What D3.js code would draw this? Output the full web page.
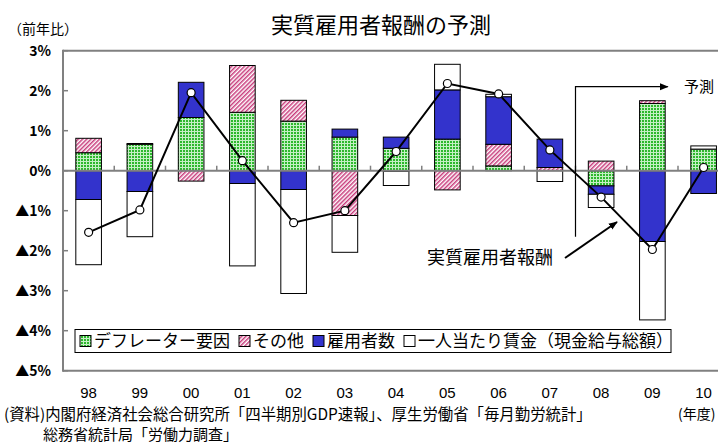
<!DOCTYPE html>
<html><head><meta charset="utf-8">
<script src="https://cdn.jsdelivr.net/npm/d3@7/dist/d3.min.js"></script>
<style>
body{margin:0;background:#fff;}
svg{display:block;}
text{font-family:"Liberation Sans","Noto Sans CJK JP",sans-serif;}
.jp{font-family:"Noto Sans CJK JP","Liberation Sans",sans-serif;}
</style></head>
<body><svg id="c" width="718" height="446"></svg>
<script>
const categories = ["98","99","00","01","02","03","04","05","06","07","08","09","10"];
const deflator   = [0.45, 0.66, 1.33, 1.46, 1.24, 0.84, 0.56, 0.79, 0.12, 0.00, -0.38, 1.68, 0.54];
const others     = [0.36, 0.02, -0.26, 1.17, 0.52, -1.12, -0.02, -0.48, 0.54, 0.08, 0.24, 0.07, 0.00];
const employees  = [-0.72, -0.52, 0.88, -0.32, -0.47, 0.20, 0.28, 1.23, 1.19, 0.71, -0.21, -1.77, -0.57];
const wages      = [-1.63, -1.13, 0.00, -2.06, -2.60, -0.92, -0.35, 0.64, 0.06, -0.27, -0.33, -1.96, 0.08];
const compensation = [-1.54, -0.98, 1.95, 0.25, -1.30, -1.00, 0.48, 2.18, 1.92, 0.52, -0.66, -1.97, 0.08];
const seriesNames = ["デフレーター要因","その他","雇用者数","一人当たり賃金（現金給与総額）"];
const yTicks = [3,2,1,0,-1,-2,-3,-4,-5];
const yTickLabels = ["3%","2%","1%","0%","▲1%","▲2%","▲3%","▲4%","▲5%"];
const title = "実質雇用者報酬の予測";
const unitLabel = "（前年比）";
const yearLabel = "(年度)";
const forecastLabel = "予測";
const lineLabel = "実質雇用者報酬";
const sourceLines = ["(資料)内閣府経済社会総合研究所「四半期別GDP速報」、厚生労働省「毎月勤労統計」","総務省統計局「労働力調査」"];

const svg = d3.select("#c");
const defs = svg.append("defs");
const pg = defs.append("pattern").attr("id","pGreen").attr("patternUnits","userSpaceOnUse").attr("width",3).attr("height",3);
pg.append("rect").attr("width",3).attr("height",3).attr("fill","#2db82d");
pg.append("rect").attr("x",2).attr("width",1).attr("height",3).attr("fill","#c4efc4");
pg.append("rect").attr("y",2).attr("width",3).attr("height",1).attr("fill","#c4efc4");
const pp = defs.append("pattern").attr("id","pPink").attr("patternUnits","userSpaceOnUse").attr("width",3).attr("height",3).attr("patternTransform","rotate(45)");
pp.append("rect").attr("width",3).attr("height",3).attr("fill","#fff");
pp.append("rect").attr("width",1.5).attr("height",3).attr("fill","#c83c7c");
defs.append("marker").attr("id","arr").attr("viewBox","0 0 10 10").attr("refX",9).attr("refY",5)
  .attr("markerWidth",9).attr("markerHeight",9).attr("markerUnits","userSpaceOnUse").attr("orient","auto")
  .append("path").attr("d","M0,1 L10,5 L0,9 Z").attr("fill","#000");

const fills = ["url(#pGreen)","url(#pPink)","#3333cc","#ffffff"];

const left = 63, step = 51.25;
const x = d3.scaleBand().domain(categories).range([left, left + step*categories.length]).padding(0);
const y = d3.scaleLinear().domain([-5,3]).range([370.7, 50.7]);
const bw = x.bandwidth()*0.5;

const rows = categories.map((c,i)=>({cat:c, d:deflator[i], o:others[i], e:employees[i], w:wages[i]}));
const stack = d3.stack().keys(["d","o","e","w"]).offset(d3.stackOffsetDiverging);
const stacked = stack(rows);

const axisCol = "#808080";
svg.append("line").attr("x1",left).attr("x2",730).attr("y1",y(3)).attr("y2",y(3)).attr("stroke",axisCol).attr("stroke-width",2);
svg.append("line").attr("x1",left).attr("x2",730).attr("y1",y(-5)).attr("y2",y(-5)).attr("stroke",axisCol).attr("stroke-width",2);

stacked.forEach((s,k)=>{
  svg.append("g").selectAll("rect").data(s).join("rect")
    .attr("x",d=>x(d.data.cat)+x.bandwidth()/2-bw/2)
    .attr("width",bw)
    .attr("y",d=>y(Math.max(d[0],d[1])))
    .attr("height",d=>Math.abs(y(d[0])-y(d[1])))
    .attr("fill",fills[k]).attr("stroke","#000").attr("stroke-width",1)
    .attr("display",d=>Math.abs(d[1]-d[0])<1e-9?"none":null);
});

svg.append("line").attr("x1",left).attr("x2",730).attr("y1",y(0)).attr("y2",y(0)).attr("stroke",axisCol).attr("stroke-width",2);
svg.append("line").attr("x1",left).attr("x2",left).attr("y1",y(3)-1).attr("y2",y(-5)+1).attr("stroke",axisCol).attr("stroke-width",2);
svg.append("g").selectAll("line").data(yTicks).join("line")
  .attr("x1",left).attr("x2",left+5).attr("y1",d=>y(d)).attr("y2",d=>y(d)).attr("stroke",axisCol).attr("stroke-width",1.5);
svg.append("g").selectAll("line").data(categories.slice(1)).join("line")
  .attr("x1",d=>x(d)).attr("x2",d=>x(d)).attr("y1",y(0)-5).attr("y2",y(0)).attr("stroke",axisCol).attr("stroke-width",1.5);

svg.append("g").selectAll("text").data(yTicks).join("text")
  .attr("class","jp").attr("x",51).attr("y",d=>y(d)).attr("dy","0.36em").attr("text-anchor","end")
  .attr("font-size",14).attr("font-weight","bold").attr("fill","#000").text((d,i)=>yTickLabels[i]);

svg.append("g").selectAll("text").data(categories).join("text")
  .attr("x",d=>x(d)+x.bandwidth()/2).attr("y",393).attr("dy","0.36em").attr("text-anchor","middle")
  .attr("font-size",15).text(d=>d);

const line = d3.line().x((d,i)=>x(categories[i])+x.bandwidth()/2).y(d=>y(d));
svg.append("path").datum(compensation).attr("d",line).attr("fill","none").attr("stroke","#000").attr("stroke-width",2);
svg.append("g").selectAll("circle").data(compensation).join("circle")
  .attr("cx",(d,i)=>x(categories[i])+x.bandwidth()/2).attr("cy",d=>y(d)).attr("r",4)
  .attr("fill","#fff").attr("stroke","#000").attr("stroke-width",1.2);

const fx = x("08");
svg.append("path").attr("d",`M${fx},${y(-1.65)} V${y(2.1)} H${x("09")+41}`)
  .attr("fill","none").attr("stroke","#000").attr("stroke-width",1.2).attr("marker-end","url(#arr)");
svg.append("text").attr("class","jp").attr("x",684).attr("y",y(2.1)).attr("dy","0.36em").attr("font-size",15).text(forecastLabel);

svg.append("text").attr("class","jp").attr("x",427).attr("y",258).attr("dy","0.36em").attr("font-size",18).text(lineLabel);
svg.append("line").attr("x1",565).attr("y1",258).attr("x2",617).attr("y2",222)
  .attr("stroke","#000").attr("stroke-width",2).attr("marker-end","url(#arr)");

const lg = svg.append("g");
lg.append("rect").attr("x",75).attr("y",329.5).attr("width",596).attr("height",23).attr("fill","#fff").attr("stroke","#000").attr("stroke-width",1);
let lx = 80;
seriesNames.forEach((n,i)=>{
  lg.append("rect").attr("x",lx).attr("y",335.5).attr("width",11).attr("height",11).attr("fill",fills[i]).attr("stroke","#000").attr("stroke-width",1);
  const t = lg.append("text").attr("class","jp").attr("x",lx+14).attr("y",341).attr("dy","0.36em").attr("font-size",17).text(n);
  lx += 14 + t.node().getComputedTextLength() + 9;
});

svg.append("text").attr("class","jp").attr("x",381).attr("y",25).attr("dy","0.36em").attr("text-anchor","middle").attr("font-size",22).text(title);
svg.append("text").attr("class","jp").attr("x",8).attr("y",29).attr("dy","0.36em").attr("font-size",14).text(unitLabel);
svg.append("text").attr("class","jp").attr("x",678).attr("y",414).attr("dy","0.36em").attr("font-size",14).text(yearLabel);
svg.append("text").attr("class","jp").attr("x",4).attr("y",414).attr("dy","0.36em").attr("font-size",15.4).text(sourceLines[0]);
svg.append("text").attr("class","jp").attr("x",43).attr("y",435).attr("dy","0.36em").attr("font-size",15).text(sourceLines[1]);
</script></body></html>
